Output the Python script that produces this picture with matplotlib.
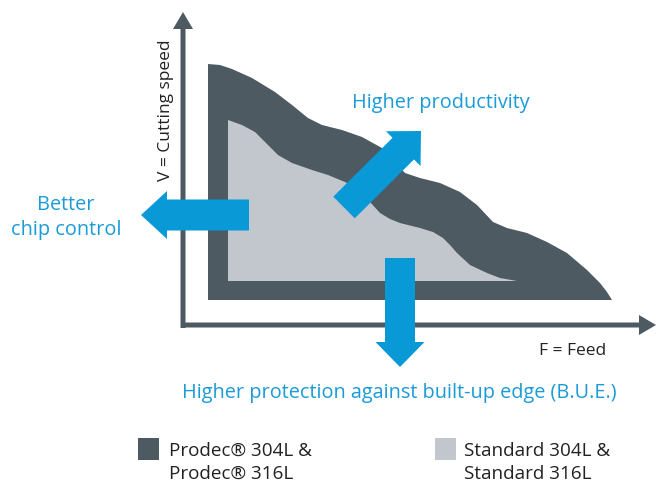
import matplotlib
matplotlib.use('Agg')
import matplotlib.pyplot as plt
from matplotlib.patches import Polygon, Rectangle

plt.rcParams['font.family'] = ['Open Sans', 'DejaVu Sans']

DARK = '#4e5a61'
LIGHT = '#c2c6cd'
BLUE = '#0899d6'
TEXT_BLUE = '#1b9bd7'
INK = '#222222'

# outline of the Prodec window (top edge, left to right), picture pixels
prodec_x = [208, 220, 232, 252, 275, 292, 308, 322, 342, 362, 382, 395, 405, 420,
            440, 460, 477, 493, 507, 527, 547, 567, 587, 600, 607, 612]
prodec_y = [64, 65, 69, 78, 92, 105, 118, 125, 130, 137, 148, 162, 173, 178,
            183, 192, 205, 222, 228, 233, 242, 253, 270, 283, 292, 300]
prodec_base = 300

# outline of the standard grade window
std_x = [228, 242, 255, 265, 278, 292, 312, 328, 345, 358, 370, 380, 390, 400,
         420, 433, 443, 450, 457, 470, 487, 500, 517]
std_y = [120, 125, 132, 142, 155, 163, 170, 175, 182, 190, 202, 213, 219, 223,
         228, 232, 238, 245, 253, 265, 273, 278, 281]
std_base = 281

fig = plt.figure(figsize=(6.6, 4.84), dpi=100)
ax = fig.add_axes([0, 0, 1, 1])
ax.set_xlim(0, 660)
ax.set_ylim(484, 0)
ax.axis('off')

# shapes
dark_pts = list(zip(prodec_x, prodec_y)) + [(prodec_x[-1], prodec_base), (prodec_x[0], prodec_base)]
ax.add_patch(Polygon(dark_pts, closed=True, facecolor=DARK, edgecolor='none', zorder=1))
light_pts = list(zip(std_x, std_y)) + [(std_x[-1], std_base), (std_x[0], std_base)]
ax.add_patch(Polygon(light_pts, closed=True, facecolor=LIGHT, edgecolor='none', zorder=2))

# axes arrows
ax.arrow(183, 328, 0, -316, width=5, head_width=20, head_length=17,
         length_includes_head=True, color=DARK, lw=0, zorder=3)
ax.arrow(181, 325, 475, 0, width=5, head_width=20, head_length=17,
         length_includes_head=True, color=DARK, lw=0, zorder=3)

# blue arrows
ax.arrow(249, 215, -108, 0, width=31, head_width=48, head_length=26,
         length_includes_head=True, color=BLUE, lw=0, zorder=4)
ax.arrow(344, 207.5, 77, -76.5, width=30.5, head_width=49, head_length=25,
         length_includes_head=True, color=BLUE, lw=0, zorder=4)
ax.arrow(400, 258, 0, 109, width=30, head_width=49, head_length=25,
         length_includes_head=True, color=BLUE, lw=0, zorder=4)

# labels
ax.text(166, 110, 'V = Cutting speed', rotation=90, ha='center', va='center',
        fontsize=12.5, color=INK)
ax.text(539, 355, 'F = Feed', ha='left', va='baseline', fontsize=12.5, color=INK)
ax.text(352, 108, 'Higher productivity', ha='left', va='baseline', fontsize=14.3, color=TEXT_BLUE)
ax.text(66, 210, 'Better', ha='center', va='baseline', fontsize=14.3, color=TEXT_BLUE)
ax.text(66, 235, 'chip control', ha='center', va='baseline', fontsize=14.3, color=TEXT_BLUE)
ax.text(182, 398, 'Higher protection against built-up edge (B.U.E.)', ha='left',
        va='baseline', fontsize=14.3, color=TEXT_BLUE)

# legend
ax.add_patch(Rectangle((138, 438), 21, 22, facecolor=DARK, edgecolor='none'))
ax.text(169, 456, 'Prodec® 304L &', ha='left', va='baseline', fontsize=13.6, color=INK)
ax.text(169, 479, 'Prodec® 316L', ha='left', va='baseline', fontsize=13.6, color=INK)
ax.add_patch(Rectangle((435, 438), 21, 22, facecolor=LIGHT, edgecolor='none'))
ax.text(464, 456, 'Standard 304L &', ha='left', va='baseline', fontsize=13.6, color=INK)
ax.text(464, 479, 'Standard 316L', ha='left', va='baseline', fontsize=13.6, color=INK)

fig.savefig('out.png', dpi=100)
